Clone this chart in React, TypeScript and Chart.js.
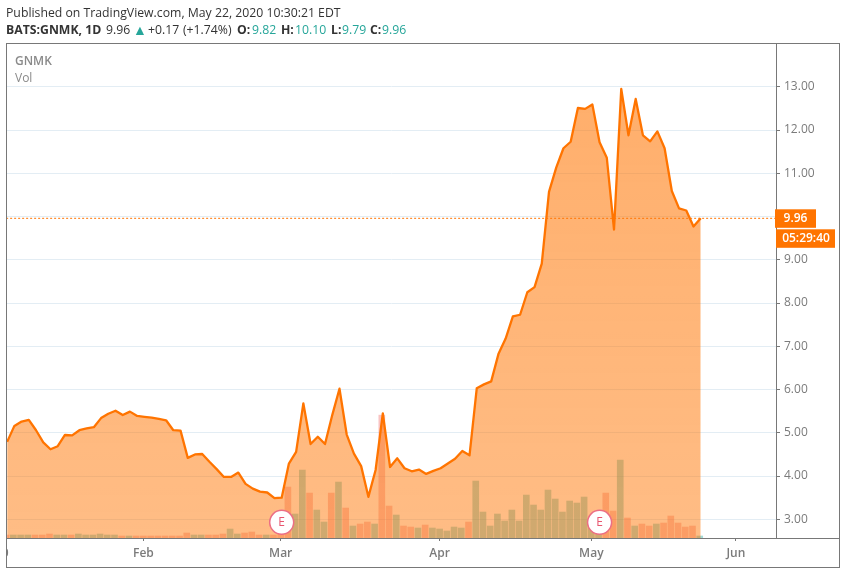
import React, { useEffect, useRef } from "react";
import { Chart, registerables } from "chart.js";

Chart.register(...registerables);

const firstIndex = -19;
const closes = [
  4.79, 5.16, 5.26, 5.3, 5.06, 4.78, 4.62, 4.69, 4.95, 4.94, 5.06, 5.1, 5.13, 5.34, 5.44, 5.51, 5.41, 5.49, 5.39,
  5.37, 5.35, 5.32, 5.29, 5.06, 5.05, 4.42, 4.5, 4.51, 4.33, 4.16, 3.98, 3.98, 4.08, 3.82, 3.71, 3.64, 3.62, 3.49, 3.5,
  4.29, 4.56, 5.68, 4.74, 4.91, 4.74, 5.41, 6.02, 4.96, 4.52, 4.23, 3.52, 4.14, 5.45, 4.21, 4.41, 4.18, 4.11, 4.15,
  4.05, 4.12, 4.18, 4.29, 4.4, 4.58, 4.48, 6.03, 6.12, 6.19, 6.82, 7.18, 7.69, 7.73, 8.25, 8.37, 8.91, 10.57, 11.13,
  11.58, 11.73, 12.51, 12.49, 12.59, 11.72, 11.36, 9.7, 12.95, 11.88, 12.72, 11.88, 11.74, 11.97, 11.58, 10.59, 10.19,
  10.14, 9.77, 9.96,
];
const volumes = [
  3, 3, 3, 3, 3, 3, 4, 3, 3, 3, 4, 3, 3, 4, 3, 3, 2, 2, 2,
  2, 2, 2, 2, 2, 2, 5, 3, 3, 3, 3, 4, 9, 4, 5, 6, 3, 3, 3, 12,
  51, 24, 68, 45, 28, 16, 45, 56, 30, 12, 14, 16, 14, 123, 32, 23, 12, 11, 10, 13, 10, 9, 7, 11, 10, 16, 57, 26, 12,
  24, 17, 28, 17, 43, 33, 28, 48, 39, 26, 37, 35, 41, 18, 14, 45, 27, 78, 20, 12, 14, 12, 14, 15, 22, 15, 11, 12, 2,
];
const upDays = [
  -18, -17, -16, -12, -11, -9, -8, -7, -6, -5, -4, -2, 7, 8, 12, 13, 17, 21, 22, 24, 25, 27, 29, 32, 35, 38, 40, 41, 42,
  43, 44, 46, 47, 48, 49, 50, 51, 52, 53, 54, 55, 56, 57, 58, 59, 60, 61, 62, 63, 66, 68, 71, 77,
];
const tickIndices = [0, 19, 41, 62, 82];
const tickNames = ["Feb", "Mar", "Apr", "May", "Jun"];
const priceTicks = [3, 4, 5, 6, 7, 8, 9, 10, 11, 12, 13];
const earningsIndices = [19, 63];
const lastClose = 9.96;
const headerParts: [string, number, string, number][] = [
  ["BATS:GNMK, 1D", 6, "#333", 700],
  ["9.96", 106, "#333", 400],
  ["+0.17", 148, "#333", 400],
  ["(+1.74%)", 183, "#333", 400],
  ["O:", 237, "#333", 700],
  ["9.82", 252, "#26a69a", 400],
  ["H:", 281, "#333", 700],
  ["10.10", 295, "#26a69a", 400],
  ["L:", 331, "#333", 700],
  ["9.79", 342, "#26a69a", 400],
  ["C:", 370, "#333", 700],
  ["9.96", 382, "#26a69a", 400],
];

const upSet = new Set(upDays);
const GRAY = "#787878";
const TEXT = "#7b7b7b";
const FONT = "'Open Sans', sans-serif";

const overlay: any = {
  id: "overlay",
  afterDatasetsDraw(chart: any) {
    const { ctx } = chart;
    const meta = chart.getDatasetMeta(3);
    ctx.save();
    ctx.fillStyle = "#e8566f";
    ctx.font = `12px ${FONT}`;
    ctx.textAlign = "center";
    ctx.textBaseline = "middle";
    meta.data.forEach((p: any) => ctx.fillText("E", p.x, p.y));
    ctx.restore();
  },
  afterDraw(chart: any) {
    const { ctx, scales, chartArea } = chart;
    ctx.save();
    ctx.strokeStyle = GRAY;
    ctx.lineWidth = 1;
    ctx.strokeRect(6.5, 43.5, 833, 524);
    ctx.beginPath();
    ctx.moveTo(chartArea.right, 538.5);
    ctx.lineTo(839.5, 538.5);
    ctx.stroke();

    // clipped year label at the left edge
    ctx.save();
    ctx.beginPath();
    ctx.rect(7, 540, 60, 26);
    ctx.clip();
    ctx.font = `600 12px ${FONT}`;
    ctx.fillStyle = TEXT;
    ctx.textAlign = "right";
    ctx.textBaseline = "middle";
    ctx.fillText("2020", scales.x.getPixelForValue(-19) + 2.5, 554);
    ctx.restore();

    // last price and countdown boxes
    const y = scales.y.getPixelForValue(lastClose);
    ctx.fillStyle = "#ff7400";
    ctx.fillRect(775, y - 9, 41, 18.5);
    ctx.fillRect(776, y + 11, 59, 18.5);
    ctx.fillStyle = "#fff";
    ctx.font = `600 12px ${FONT}`;
    ctx.textBaseline = "middle";
    ctx.textAlign = "center";
    ctx.fillText(lastClose.toFixed(2), 795.5, y + 0.5);
    ctx.fillText("05:29:40", 806, y + 20.5);
    ctx.restore();
  },
};

export default function App() {
  const ref = useRef<HTMLCanvasElement>(null);
  useEffect(() => {
    document.body.style.margin = "0";
    const xs = closes.map((_, k) => firstIndex + k);
    const chart = new Chart(ref.current as HTMLCanvasElement, {
      type: "line",
      plugins: [overlay],
      data: {
        datasets: [
          {
            type: "bar",
            yAxisID: "vol",
            data: xs.map((x, k) => ({ x, y: volumes[k] })),
            backgroundColor: xs.map((x) => (upSet.has(x) ? "rgba(38,166,154,0.42)" : "rgba(239,83,80,0.35)")),
            barThickness: 6,
            order: 5,
          },
          {
            type: "line",
            yAxisID: "y",
            data: xs.map((x, k) => ({ x: x + 0.14, y: closes[k] })),
            borderColor: "#ff7400",
            borderWidth: 2.3,
            borderJoinStyle: "round",
            pointRadius: 0,
            tension: 0,
            fill: "start",
            backgroundColor: (c: any) => {
              const g = c.chart.ctx.createLinearGradient(0, 87, 0, 538);
              g.addColorStop(0, "rgba(255,116,0,0.58)");
              g.addColorStop(1, "rgba(255,116,0,0.48)");
              return g;
            },
            order: 3,
          },
          {
            type: "line",
            yAxisID: "y",
            data: [
              { x: -19, y: lastClose },
              { x: 88, y: lastClose },
            ],
            borderColor: "#ff7400",
            borderWidth: 1,
            borderDash: [2, 2],
            pointRadius: 0,
            fill: false,
            order: 2,
          },
          {
            type: "line",
            yAxisID: "y",
            showLine: false,
            data: earningsIndices.map((x) => ({ x: x + 0.14, y: 2.93 })),
            pointRadius: 12,
            pointBorderWidth: 1.5,
            pointBorderColor: "#ec6f84",
            pointBackgroundColor: "#ffffff",
            order: 1,
          },
        ],
      } as any,
      options: {
        animation: false,
        responsive: false,
        devicePixelRatio: 1,
        layout: { autoPadding: false, padding: { left: 7, top: 44, right: 6, bottom: 7 } },
        plugins: { legend: { display: false }, tooltip: { enabled: false }, title: { display: false } },
        scales: {
          x: {
            type: "linear",
            offset: false,
            min: -18.88,
            max: 87.56,
            afterBuildTicks: (s: any) => {
              s.ticks = tickIndices.map((value) => ({ value }));
            },
            afterFit: (s: any) => {
              s.height = 29;
              s.paddingLeft = 0;
              s.paddingRight = 0;
            },
            border: { color: GRAY },
            grid: { offset: false, drawOnChartArea: false, tickLength: 3, tickColor: GRAY },
            ticks: {
              maxRotation: 0,
              autoSkip: false,
              padding: 5,
              color: TEXT,
              font: { family: FONT, size: 12, weight: 600 },
              callback: (v: any) => tickNames[tickIndices.indexOf(v)],
            },
          },
          y: {
            position: "right",
            min: 2.568,
            max: 13.99,
            afterBuildTicks: (s: any) => {
              s.ticks = priceTicks.map((value) => ({ value }));
            },
            afterFit: (s: any) => {
              s.width = 64;
              s.paddingTop = 0;
              s.paddingBottom = 0;
            },
            border: { color: GRAY },
            grid: { color: "#e3edf4", tickColor: GRAY, tickLength: 4, lineWidth: 1 },
            ticks: {
              padding: 4,
              color: TEXT,
              font: { family: FONT, size: 12 },
              callback: (v: any) => Number(v).toFixed(2),
            },
          },
          vol: {
            display: false,
            min: 0,
            max: 494.5,
            afterFit: (s: any) => {
              s.width = 0;
              s.paddingTop = 0;
              s.paddingBottom = 0;
            },
          },
        },
      } as any,
    });
    return () => chart.destroy();
  }, []);

  const rowStyle = { position: "absolute", top: 21, fontSize: 12.25, lineHeight: "17px", whiteSpace: "nowrap" } as any;
  return (
    <div style={{ position: "relative", width: 846, height: 574, overflow: "hidden", fontFamily: FONT, background: "#fff" }}>
      <canvas ref={ref} width={846} height={574} style={{ position: "absolute", left: 0, top: 0 }} />
      <div style={{ position: "absolute", left: 6, top: 4, fontSize: 12.25, lineHeight: "17px", color: "#333", whiteSpace: "nowrap" }}>
        Published on TradingView.com, May 22, 2020 10:30:21 EDT
      </div>
      {headerParts.map(([text, left, color, weight], k) => (
        <span key={k} style={{ ...rowStyle, left, color, fontWeight: weight }}>
          {text}
        </span>
      ))}
      <span style={{ ...rowStyle, left: 133, color: "#26a69a", fontSize: 14 }}>▲</span>
      <div style={{ position: "absolute", left: 15, top: 52, fontSize: 12, lineHeight: "17px", color: "#8a8a8a", fontWeight: 600 }}>GNMK</div>
      <div style={{ position: "absolute", left: 15, top: 69, fontSize: 12, lineHeight: "17px", color: "#8a8a8a" }}>Vol</div>
    </div>
  );
}
